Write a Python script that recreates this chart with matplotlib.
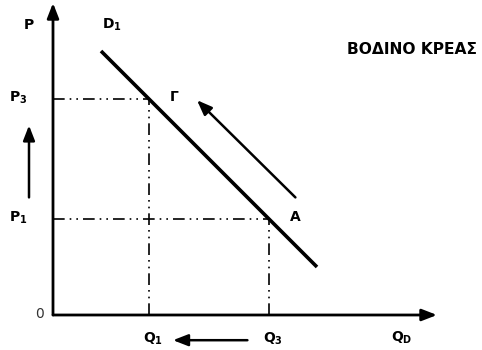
import matplotlib
matplotlib.use("Agg")
from matplotlib import pyplot as plt
import numpy as np

plt.rcParams['font.family'] = ['DejaVu Sans']
plt.rcParams['mathtext.default'] = 'regular'

# demand curve D1: P = a - Q
demand_a = 26
demand_q = [4, 22]
demand_p = [demand_a - q for q in demand_q]

# equilibrium points
point_names = ['Γ', 'A']
q_vals = [8, 18]    # Q1, Q3
p_vals = [18, 8]    # P3, P1

q_labels = ['Q$_1$', 'Q$_3$']
p_labels = ['P$_3$', 'P$_1$']

title = 'ΒΟΔΙΝΟ ΚΡΕΑΣ'

fig = plt.figure(figsize=(4.82, 3.5), dpi=100)
ax = fig.add_axes([0, 0, 1, 1])
ax.set_xlim(-53 / 12, (482 - 53) / 12)
ax.set_ylim(-(350 - 315) / 12, 315 / 12)
ax.axis('off')

# axes with arrows
head = dict(arrowstyle='-|>,head_length=0.9,head_width=0.35', color='black', lw=2,
            shrinkA=0, shrinkB=0)
ax.annotate('', xy=(0, 26.0), xytext=(0, 0), arrowprops=head)
ax.annotate('', xy=(32, 0), xytext=(0, 0), arrowprops=head)

# demand line
ax.plot(demand_q, demand_p, color='black', lw=2.6, solid_capstyle='butt')

# dash-dot guide lines
ls = (0, (7, 3, 1, 3, 1, 3))
for q, p in zip(q_vals, p_vals):
    ax.plot([0, q], [p, p], color='black', lw=1.2, linestyle=ls)
    ax.plot([q, q], [0, p], color='black', lw=1.2, linestyle=ls)

# point labels
ax.text(10.1, p_vals[0] + 0.2, point_names[0], fontsize=10, fontweight='bold',
        ha='center', va='center')
ax.text(20.2, p_vals[1] + 0.2, point_names[1], fontsize=10, fontweight='bold',
        ha='center', va='center')

# axis labels
ax.text(-2.0, 24.2, 'P', fontsize=10, fontweight='bold', ha='center', va='center')
ax.text(4.1, 24.2, 'D$_1$', fontsize=10, fontweight='bold', ha='left', va='center')
ax.text(-0.8, 0.1, '0', fontsize=10, color='#333333', ha='right', va='center')
for p, lab in zip(p_vals, p_labels):
    ax.text(-3.7, p + 0.1, lab, fontsize=10, fontweight='bold', ha='left', va='center')
for q, lab in zip(q_vals, q_labels):
    ax.text(q - 0.5, -2.0, lab, fontsize=10, fontweight='bold', ha='left', va='center')
ax.text(28.2, -1.9, 'Q$_D$', fontsize=10, fontweight='bold', ha='left', va='center')

ax.text(24.5, 22.1, title, fontsize=11.2, fontweight='bold', ha='left', va='center')

# movement arrows
mv = dict(arrowstyle='-|>,head_length=0.9,head_width=0.35', color='black', lw=1.8,
          shrinkA=0, shrinkB=0)
ax.annotate('', xy=(-2.0, 15.8), xytext=(-2.0, 9.8), arrowprops=mv)
ax.annotate('', xy=(10.0, -2.1), xytext=(16.2, -2.1), arrowprops=mv)
ax.annotate('', xy=(12.0, 17.9), xytext=(20.2, 9.8), arrowprops=mv)

plt.savefig('out.png', dpi=100)
